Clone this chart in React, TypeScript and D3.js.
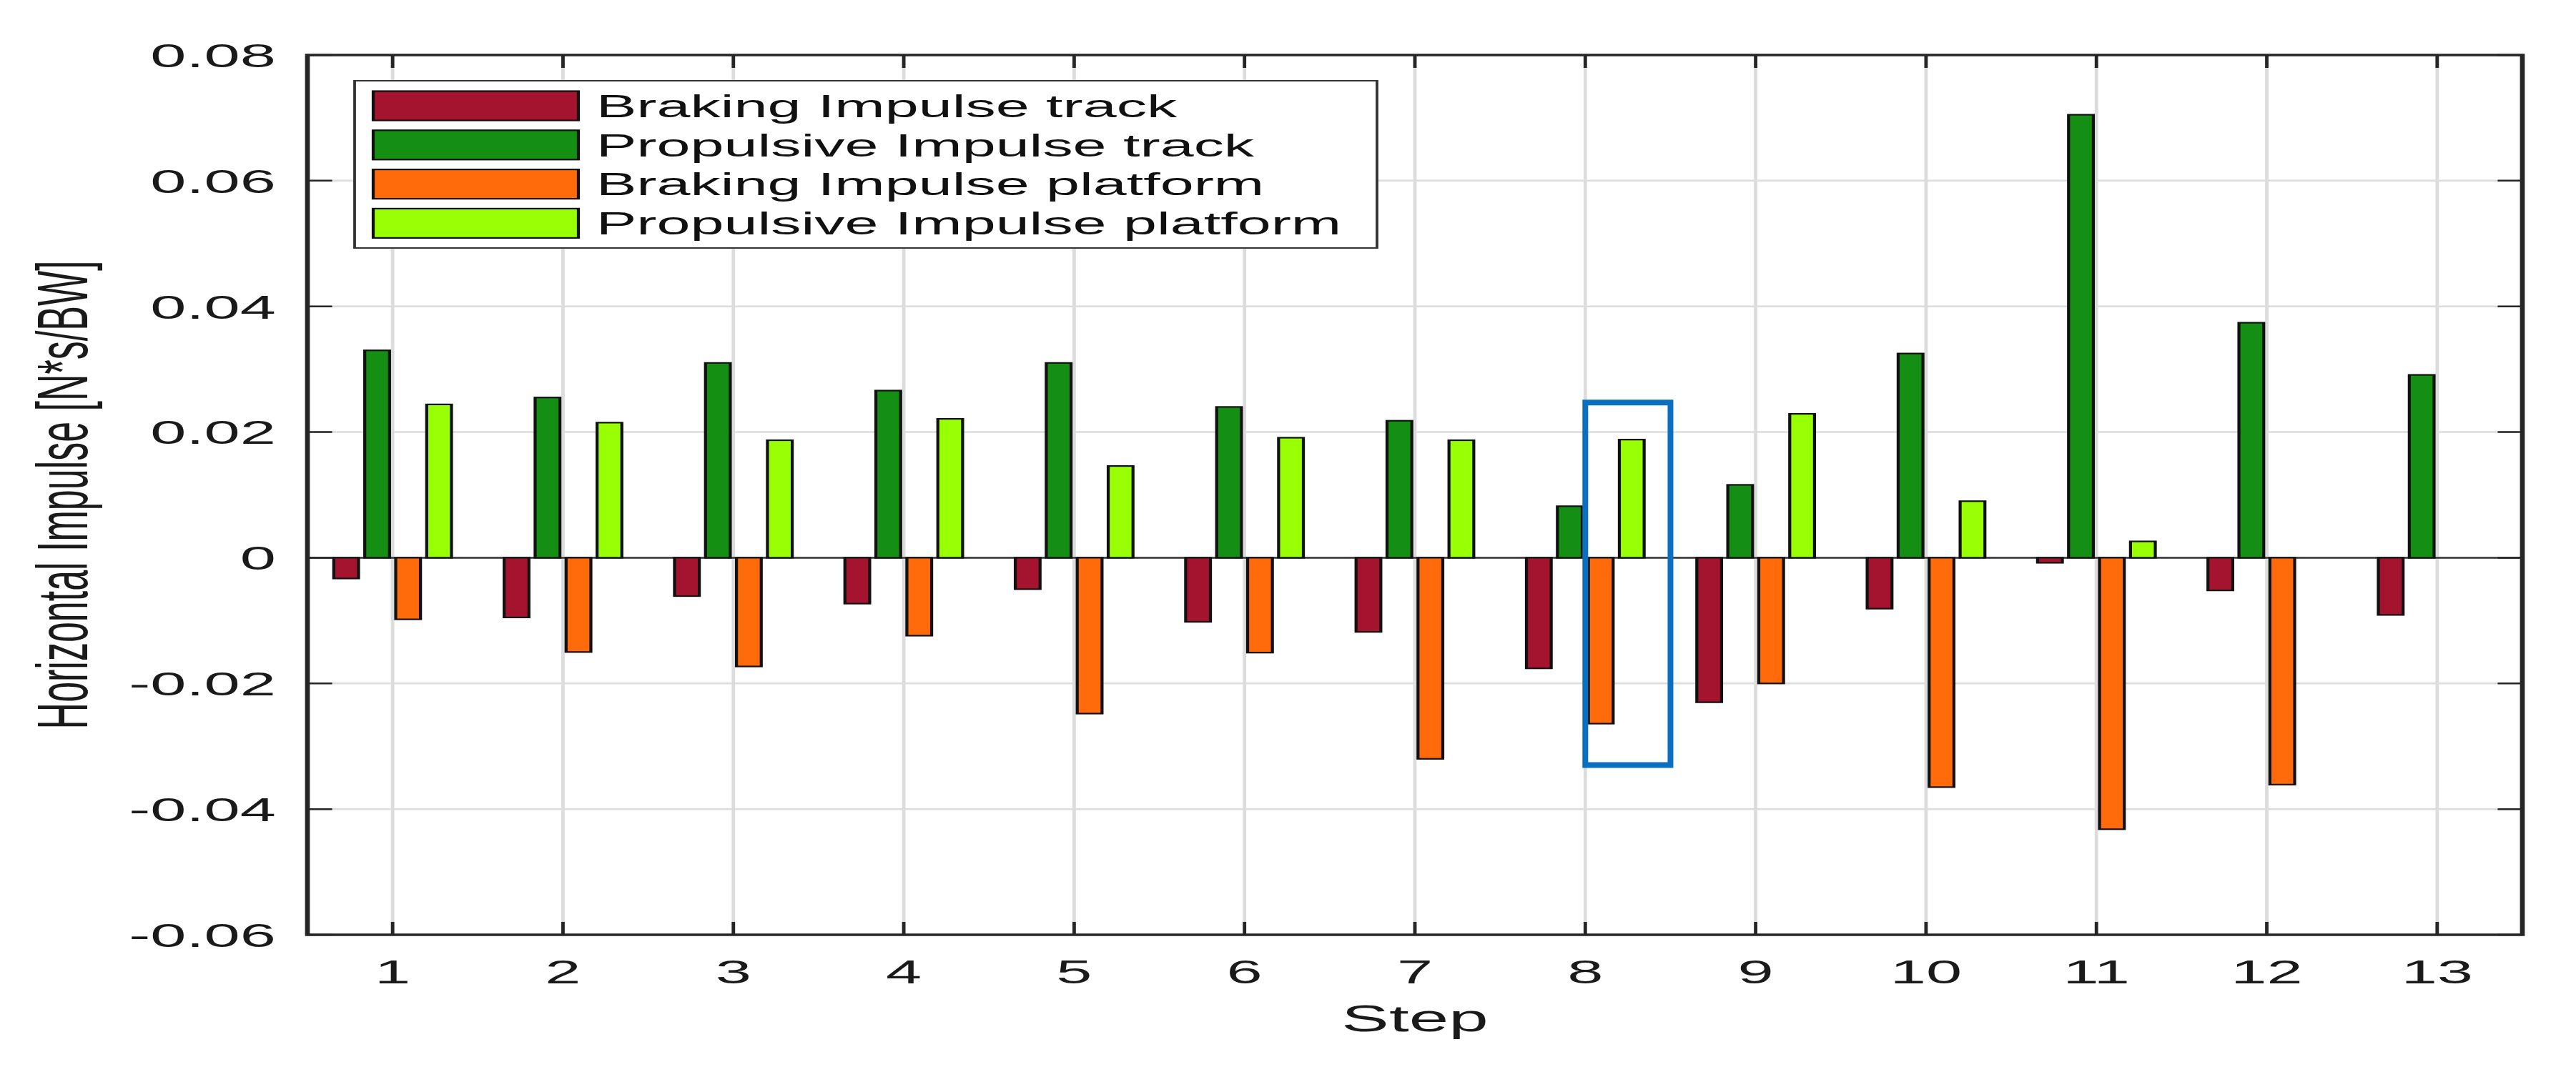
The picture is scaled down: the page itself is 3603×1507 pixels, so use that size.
import { useEffect, useRef } from "react";
import * as d3 from "d3";

// values (N*s/BW), one entry per step
const steps = [1, 2, 3, 4, 5, 6, 7, 8, 9, 10, 11, 12, 13];
const brakingTrack = [-0.0033, -0.0095, -0.0061, -0.0073, -0.005, -0.0102, -0.0118, -0.0176, -0.023, -0.0081, -0.0008, -0.0052, -0.0091];
const propulsiveTrack = [0.033, 0.0255, 0.031, 0.0266, 0.031, 0.024, 0.0218, 0.0082, 0.0116, 0.0325, 0.0705, 0.0374, 0.0291];
const brakingPlatform = [-0.0098, -0.015, -0.0173, -0.0124, -0.0248, -0.0151, -0.032, -0.0264, -0.02, -0.0365, -0.0432, -0.0361, 0];
const propulsivePlatform = [0.0244, 0.0215, 0.0187, 0.0221, 0.0146, 0.0191, 0.0187, 0.0188, 0.0229, 0.009, 0.0026, 0, 0];

const seriesNames = [
  "Braking Impulse track",
  "Propulsive Impulse track",
  "Braking Impulse platform",
  "Propulsive Impulse platform",
];
const seriesColors = ["#A5142E", "#148F14", "#FF6A0A", "#99FF05"];

const xTickLabels = ["1", "2", "3", "4", "5", "6", "7", "8", "9", "10", "11", "12", "13"];
const yTicks = [-0.06, -0.04, -0.02, 0, 0.02, 0.04, 0.06, 0.08];
const yTickLabels = ["-0.06", "-0.04", "-0.02", "0", "0.02", "0.04", "0.06", "0.08"];

// blue box drawn round step 8 platform bars (data units)
const highlight = { x0: 8.0, x1: 8.5, y0: -0.033, y1: 0.0247 };

const W = 3603;
const H = 1507;
const SX = 1.92; // the figure is stretched sideways
const VW = W / SX;
const FONT = "'Liberation Sans', Arial, Helvetica, sans-serif";

const App = () => {
  const ref = useRef<SVGSVGElement | null>(null);

  useEffect(() => {
    if (!ref.current) return;
    const svg = d3.select(ref.current);
    svg.selectAll("*").remove();

    const left = 430 / SX;
    const right = 3528 / SX;
    const top = 77;
    const bottom = 1308;

    const x = d3.scaleLinear().domain([0.5, 13.5]).range([left, right]);
    const y = d3.scaleLinear().domain([-0.06, 0.08]).range([bottom, top]);

    const series = [brakingTrack, propulsiveTrack, brakingPlatform, propulsivePlatform];
    const n = series.length;
    const groupWidth = Math.min(0.8, n / (n + 1.5));
    const slot = d3
      .scaleBand<number>()
      .domain(d3.range(n))
      .range([-groupWidth / 2, groupWidth / 2]);
    const barW = slot.bandwidth() * 0.8;

    svg.append("rect").attr("width", VW).attr("height", H).attr("fill", "#fff");

    // grid
    const grid = svg.append("g").attr("stroke", "#dcdcdc").attr("stroke-width", 2.5);
    grid
      .selectAll("line.gx")
      .data(steps)
      .join("line")
      .attr("x1", d => x(d))
      .attr("x2", d => x(d))
      .attr("y1", top)
      .attr("y2", bottom);
    grid
      .selectAll("line.gy")
      .data(yTicks)
      .join("line")
      .attr("x1", left)
      .attr("x2", right)
      .attr("y1", d => y(d))
      .attr("y2", d => y(d));

    // zero baseline
    svg
      .append("line")
      .attr("x1", left)
      .attr("x2", right)
      .attr("y1", y(0))
      .attr("y2", y(0))
      .attr("stroke", "#333")
      .attr("stroke-width", 2.5);

    // bars
    series.forEach((vals, si) => {
      svg
        .append("g")
        .selectAll("rect")
        .data(vals.map((v, i) => ({ step: steps[i], v })).filter(d => d.v !== 0))
        .join("rect")
        .attr("x", d => x(d.step + (slot(si) as number) + slot.bandwidth() / 2 - barW / 2))
        .attr("width", x(barW) - x(0))
        .attr("y", d => y(Math.max(0, d.v)))
        .attr("height", d => Math.abs(y(d.v) - y(0)))
        .attr("fill", seriesColors[si])
        .attr("stroke", "#111")
        .attr("stroke-width", 2.2);
    });

    // axes box and ticks
    svg
      .append("rect")
      .attr("x", left)
      .attr("y", top)
      .attr("width", right - left)
      .attr("height", bottom - top)
      .attr("fill", "none")
      .attr("stroke", "#262626")
      .attr("stroke-width", 3.5);

    const tl = 18;
    const ticks = svg.append("g").attr("stroke", "#262626").attr("stroke-width", 2.5);
    steps.forEach(s => {
      ticks.append("line").attr("x1", x(s)).attr("x2", x(s)).attr("y1", bottom).attr("y2", bottom - tl);
      ticks.append("line").attr("x1", x(s)).attr("x2", x(s)).attr("y1", top).attr("y2", top + tl);
    });
    yTicks.forEach(t => {
      ticks.append("line").attr("x1", left).attr("x2", left + tl).attr("y1", y(t)).attr("y2", y(t));
      ticks.append("line").attr("x1", right).attr("x2", right - tl).attr("y1", y(t)).attr("y2", y(t));
    });

    // tick labels
    svg
      .append("g")
      .selectAll("text")
      .data(yTicks)
      .join("text")
      .attr("x", 386 / SX)
      .attr("y", d => y(d))
      .attr("dy", "0.36em")
      .attr("text-anchor", "end")
      .attr("font-family", FONT)
      .attr("font-size", 47)
      .attr("fill", "#1a1a1a")
      .text((_, i) => yTickLabels[i]);

    svg
      .append("g")
      .selectAll("text")
      .data(steps)
      .join("text")
      .attr("x", d => x(d))
      .attr("y", 1376)
      .attr("text-anchor", "middle")
      .attr("font-family", FONT)
      .attr("font-size", 47)
      .attr("fill", "#1a1a1a")
      .text((_, i) => xTickLabels[i]);

    // axis titles
    svg
      .append("text")
      .attr("x", (left + right) / 2)
      .attr("y", 1443)
      .attr("text-anchor", "middle")
      .attr("font-family", FONT)
      .attr("font-size", 52)
      .attr("fill", "#1a1a1a")
      .text("Step");

    svg
      .append("text")
      .attr("transform", `translate(${122 / SX},${(top + bottom) / 2}) rotate(-90)`)
      .attr("text-anchor", "middle")
      .attr("font-family", FONT)
      .attr("font-size", 52)
      .attr("fill", "#1a1a1a")
      .text("Horizontal Impulse [N*s/BW]");

    // legend
    const lg = svg.append("g");
    lg.append("rect")
      .attr("x", 496 / SX)
      .attr("y", 113)
      .attr("width", (1926 - 496) / SX)
      .attr("height", 347 - 113)
      .attr("fill", "#fff")
      .attr("stroke", "#333")
      .attr("stroke-width", 2);
    seriesNames.forEach((name, i) => {
      const cy = 148 + i * 54.8;
      lg.append("rect")
        .attr("x", 522 / SX)
        .attr("y", cy - 20.5)
        .attr("width", (809 - 522) / SX)
        .attr("height", 41)
        .attr("fill", seriesColors[i])
        .attr("stroke", "#111")
        .attr("stroke-width", 2.2);
      lg.append("text")
        .attr("x", 834 / SX)
        .attr("y", cy)
        .attr("dy", "0.36em")
        .attr("font-family", FONT)
        .attr("font-size", 44)
        .attr("fill", "#111")
        .text(name);
    });

    // blue highlight box
    svg
      .append("rect")
      .attr("x", x(highlight.x0))
      .attr("y", y(highlight.y1))
      .attr("width", x(highlight.x1) - x(highlight.x0))
      .attr("height", y(highlight.y0) - y(highlight.y1))
      .attr("fill", "none")
      .attr("stroke", "#0B6FC0")
      .attr("stroke-width", 8)
      .attr("vector-effect", "non-scaling-stroke");
  }, []);

  return (
    <svg
      ref={ref}
      width={W}
      height={H}
      viewBox={`0 0 ${VW} ${H}`}
      preserveAspectRatio="none"
      style={{ position: "absolute", left: 0, top: 0, display: "block" }}
    />
  );
};

export default App;
